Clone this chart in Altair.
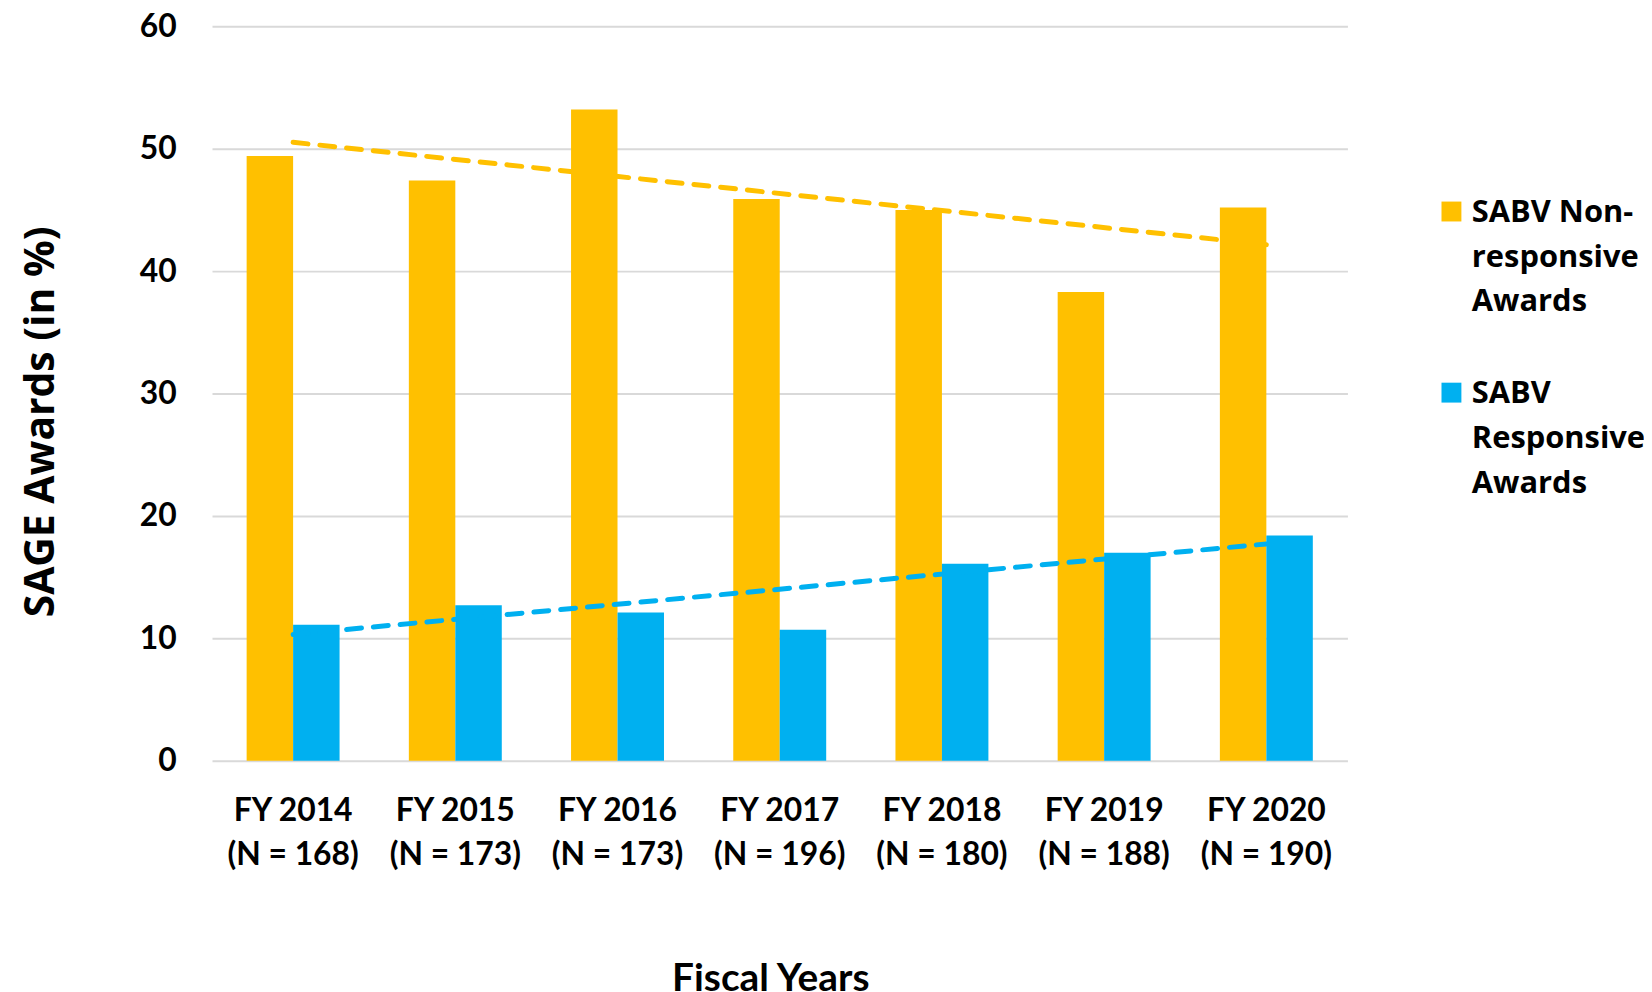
import altair as alt
import pandas as pd

# ---- data ----
years = ["FY 2014", "FY 2015", "FY 2016", "FY 2017", "FY 2018", "FY 2019", "FY 2020"]
n_counts = [168, 173, 173, 196, 180, 188, 190]
non_responsive = [49.4, 47.4, 53.2, 45.9, 45.0, 38.3, 45.2]
responsive = [11.1, 12.7, 12.1, 10.7, 16.1, 17.0, 18.4]
series_names = ["SABV Non-\nresponsive\nAwards", "SABV\nResponsive\nAwards"]
series_colors = ["#FFC000", "#00B0F0"]
y_ticks = [0, 10, 20, 30, 40, 50, 60]

labels = [f"{y}\n(N = {n})" for y, n in zip(years, n_counts)]
rows = []
for i, lab in enumerate(labels):
    rows.append({"label": lab, "idx": i, "series": series_names[0], "value": non_responsive[i]})
    rows.append({"label": lab, "idx": i, "series": series_names[1], "value": responsive[i]})
df = pd.DataFrame(rows)

NARROW = "Lato, 'Open Sans', sans-serif"
WIDE = "'Open Sans', 'DejaVu Sans', sans-serif"

color_scale = alt.Scale(domain=series_names, range=series_colors)
y_scale = alt.Scale(domain=[0, 60])

bars = alt.Chart(df).mark_bar().encode(
    x=alt.X(
        "label:N",
        sort=labels,
        scale=alt.Scale(paddingInner=0.427, paddingOuter=0.2135),
        axis=alt.Axis(
            title="Fiscal Years",
            labelExpr="split(datum.label, '\\n')",
            labelAngle=0,
            labelFont=NARROW,
            labelFontSize=32,
            labelFontWeight="bold",
            labelColor="#000000",
            labelLineHeight=44,
            labelPadding=35,
            labelBaseline="top",
            domain=False,
            ticks=False,
            titleFont=NARROW,
            titleFontSize=39,
            titleFontWeight="bold",
            titleColor="#000000",
            titleX=561,
            titleY=219,
            titleBaseline="middle",
            titleAlign="center",
        ),
    ),
    xOffset=alt.XOffset("series:N", sort=series_names, scale=alt.Scale(paddingInner=0, paddingOuter=0)),
    y=alt.Y(
        "value:Q",
        scale=y_scale,
        axis=alt.Axis(
            title="SAGE Awards (in %)",
            values=y_ticks,
            grid=True,
            gridColor="#D9D9D9",
            gridWidth=2,
            domain=False,
            ticks=False,
            labelFont=NARROW,
            labelFontSize=32,
            labelFontWeight="bold",
            labelColor="#000000",
            labelPadding=36,
            titleFont=WIDE,
            titleFontSize=41,
            titleFontWeight="bold",
            titleColor="#000000",
            titleAngle=-90,
            titleX=-171,
            titleY=397,
            titleAlign="center",
            titleBaseline="middle",
        ),
    ),
    color=alt.Color(
        "series:N",
        scale=color_scale,
        sort=series_names,
        legend=alt.Legend(
            title=None,
            orient="none",
            legendX=1230,
            legendY=157,
            padding=0,
            symbolType="M-1,0.36H1V2.36H-1Z",
            symbolSize=400,
            symbolStrokeWidth=0,
            labelExpr="split(datum.label, '\\n')",
            labelFont=WIDE,
            labelFontSize=31,
            labelFontWeight="bold",
            labelColor="#000000",
            labelBaseline="top",
            labelOffset=5,
            labelLimit=400,
            rowPadding=46,
        ),
    ),
)

trend = (
    alt.Chart(df)
    .transform_regression("idx", "value", groupby=["series"], method="linear")
    .mark_line(strokeWidth=5, strokeDash=[15, 12], strokeCap="round")
    .encode(
        x=alt.X("idx:Q", scale=alt.Scale(domain=[-0.5, 6.5], nice=False, zero=False), axis=None),
        y=alt.Y("value:Q", scale=y_scale),
        color=alt.Color("series:N", scale=color_scale, legend=None),
        detail="series:N",
    )
)

chart = (
    alt.layer(bars, trend)
    .resolve_scale(x="independent")
    .resolve_legend(color="independent")
    .properties(
        width=1141,
        height=738,
        autosize=alt.AutoSizeParams(type="none"),
        padding={"left": 205, "top": 16, "right": 298, "bottom": 232},
    )
    .configure(
        background="#FFFFFF",
        style={"guide-label": {"lineHeight": 45}},
        view=alt.ViewConfig(stroke="transparent", strokeWidth=0),
    )
)

chart.save("out.html", embed_options={"renderer": "svg", "actions": False})
